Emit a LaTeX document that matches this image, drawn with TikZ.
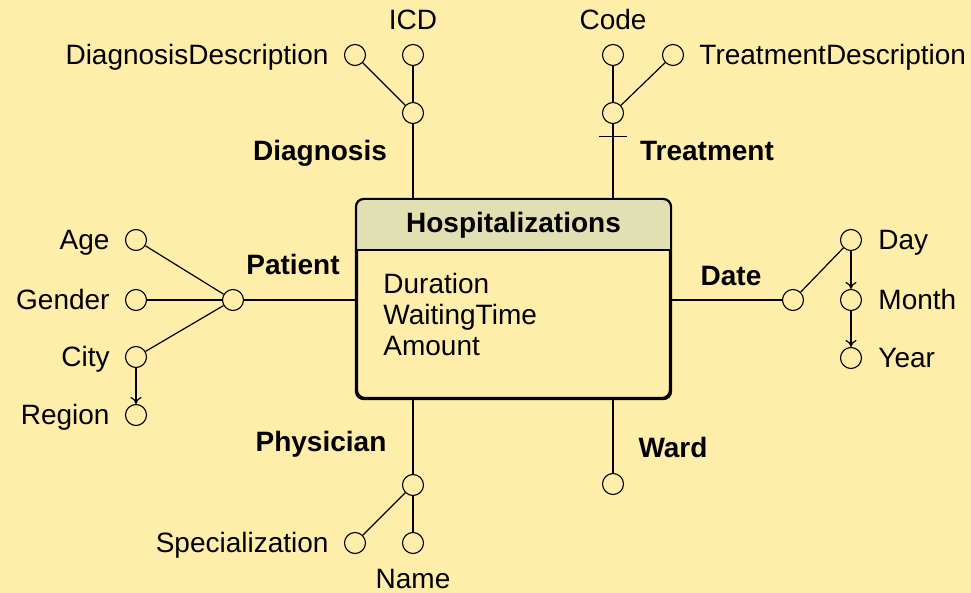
\documentclass[tikz,border=0pt]{standalone}
\usepackage{fontspec}
\setmainfont{Liberation Sans}
\usetikzlibrary{positioning, arrows.meta}
\definecolor{paper}{HTML}{FFEEAA}
\definecolor{header}{HTML}{E0E0B2}

\begin{document}
\begin{tikzpicture}[
        x=0.5pt, y=-0.5pt,
        fact/.style={draw, rounded corners=4pt, line width=1.1pt, minimum width=156.5pt, minimum height=99pt, inner sep=0pt},
        attr/.style={circle, draw, fill=paper, minimum size=10.5pt, inner sep=0pt, line width=0.55pt},
        attlbl/.style={font=\fontsize{14}{16}\selectfont, inner sep=1pt, text height=10pt, text depth=0pt},
        dimlbl/.style={attlbl, font=\fontsize{14}{16}\selectfont\bfseries},
        conn/.style={line width=0.6pt},
        >={To[length=3.5pt, width=5.5pt]},
    ]
    \useasboundingbox[fill=paper] (0,0) rectangle (971,593);

    % fact
    \node[fact] (hosp) at (513.5,299) {};
    \coordinate (hdr) at (0,250);
    \begin{scope}
        \clip[rounded corners=4pt] (hosp.north west) rectangle (hosp.south east);
        \fill[header] (hosp.north west) rectangle (hosp.east |- hdr);
    \end{scope}
    \draw[line width=1.1pt] (hosp.west |- hdr) -- (hosp.east |- hdr);
    \draw[line width=1.1pt, rounded corners=4pt] (hosp.north west) rectangle (hosp.south east);
    \node[dimlbl] (title) at (513.5,223) {Hospitalizations};
    \node[align=left, anchor=west, inner sep=0pt, font=\fontsize{14}{15.5}\selectfont] (measures) at (383,314) {Duration\\WaitingTime\\Amount};

    % levels
    \node[attr] (diag)      at (413,113) {};
    \node[attr] (icd)       at (413,55)  {};
    \node[attr] (diagdesc)  at (355,55)  {};
    \node[attr] (treat)     at (613,113) {};
    \node[attr] (code)      at (613,55)  {};
    \node[attr] (treatdesc) at (673,55)  {};
    \node[attr] (patient)   at (233,300) {};
    \node[attr] (age)       at (136,240) {};
    \node[attr] (gender)    at (136,300) {};
    \node[attr] (city)      at (136,357) {};
    \node[attr] (region)    at (136,415) {};
    \node[attr] (date)      at (793,300) {};
    \node[attr] (day)       at (851,240) {};
    \node[attr] (month)     at (851,300) {};
    \node[attr] (year)      at (851,358) {};
    \node[attr] (phys)      at (413,485) {};
    \node[attr] (spec)      at (355,543) {};
    \node[attr] (name)      at (413,543) {};
    \node[attr] (ward)      at (613,484) {};

    % attribute names
    \node[attlbl, above=6pt of icd]       {ICD};
    \node[attlbl, left=6.5pt of diagdesc] {DiagnosisDescription};
    \node[attlbl, above=6pt of code]      {Code};
    \node[attlbl, right=6.5pt of treatdesc] {TreatmentDescription};
    \node[attlbl, left=6.5pt of age]      {Age};
    \node[attlbl, left=6.5pt of gender]   {Gender};
    \node[attlbl, left=6.5pt of city]     {City};
    \node[attlbl, left=6.5pt of region]   {Region};
    \node[attlbl, right=7pt of day]       {Day};
    \node[attlbl, right=7pt of month]     {Month};
    \node[attlbl, right=7pt of year]      {Year};
    \node[attlbl, left=6.5pt of spec]     {Specialization};
    \node[attlbl, below=6pt of name]      {Name};

    % dimension names
    \node[dimlbl] (diaglbl)  at (320,151) {Diagnosis};
    \node[dimlbl] (treatlbl) at (707,151) {Treatment};
    \node[dimlbl] (patlbl)   at (293,265) {Patient};
    \node[dimlbl] (datelbl)  at (731,276) {Date};
    \node[dimlbl] (physlbl)  at (321,442) {Physician};
    \node[dimlbl] (wardlbl)  at (673,448) {Ward};

    % links to the fact
    \draw[conn] (diag)    -- (diag |- hosp.north);
    \draw[conn] (treat)   -- (treat |- hosp.north);
    \draw[conn] (patient) -- (patient -| hosp.west);
    \draw[conn] (date)    -- (date -| hosp.east);
    \draw[conn] (phys)    -- (phys |- hosp.south);
    \draw[conn] (ward)    -- (ward |- hosp.south);
    \coordinate (tick) at (613,136.5);
    \draw[conn] ([xshift=-7pt]tick) -- ([xshift=7pt]tick);

    % hierarchies
    \draw[conn] (diagdesc) -- (diag);
    \draw[conn] (icd)      -- (diag);
    \draw[conn] (code)      -- (treat);
    \draw[conn] (treatdesc) -- (treat);
    \draw[conn] (age)    -- (patient);
    \draw[conn] (gender) -- (patient);
    \draw[conn] (city)   -- (patient);
    \draw[conn, ->] (city) -- (region);
    \draw[conn] (date) -- (day);
    \draw[conn, ->] (day)   -- (month);
    \draw[conn, ->] (month) -- (year);
    \draw[conn] (phys) -- (spec);
    \draw[conn] (phys) -- (name);
\end{tikzpicture}
\end{document}
